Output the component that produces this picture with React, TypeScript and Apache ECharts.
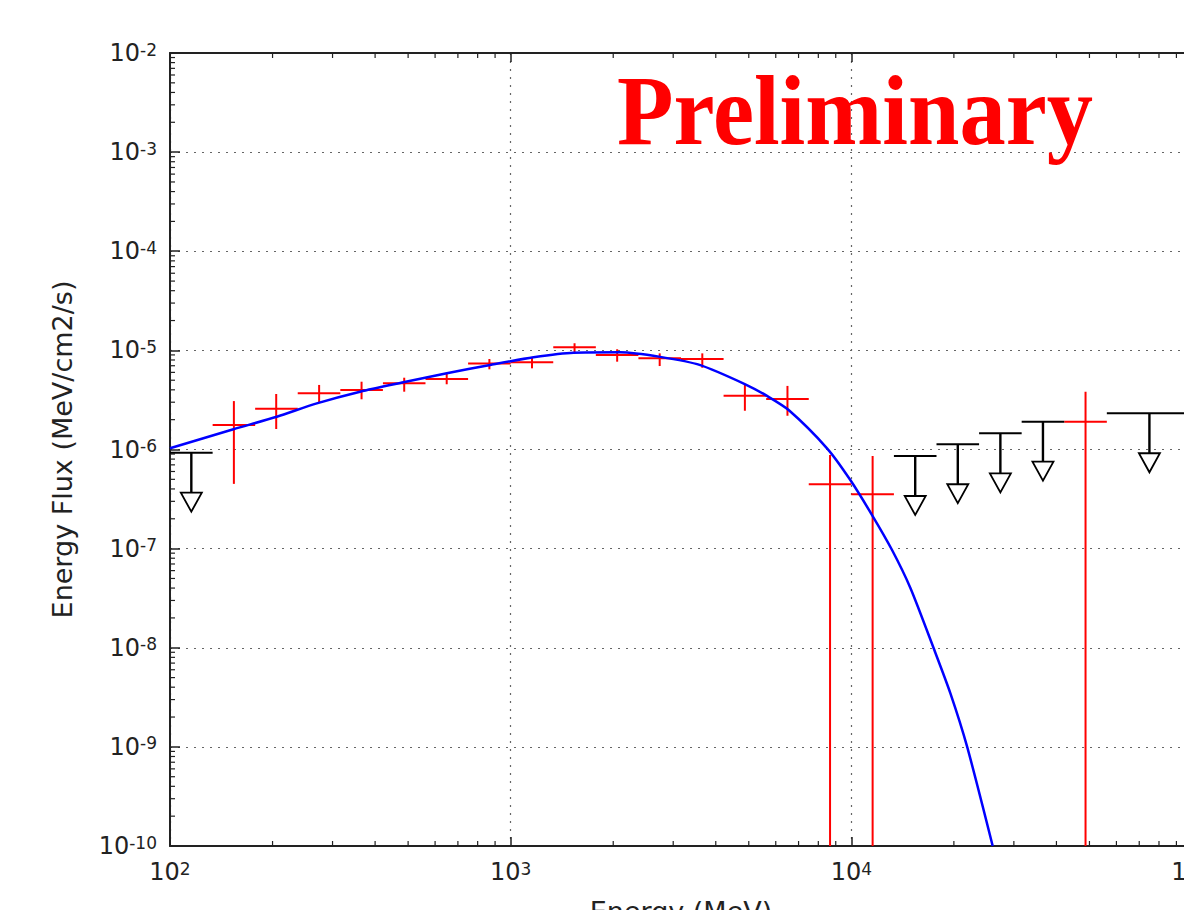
import React, { useEffect, useRef } from "react";
import * as echarts from "echarts";

// ---- Data ----
// Red data points (butterfly error bars): bin edges, bin centre (MeV), flux and its error range (MeV/cm2/s)
const binLow = [133.4, 177.8, 237.1, 316.2, 421.7, 562.3, 749.9, 1000, 1333.5, 1778.3, 2371.4, 3162.3, 4217.0, 5623.4, 7498.9, 10000, 42170];
const binHigh = [177.8, 237.1, 316.2, 421.7, 562.3, 749.9, 1000, 1333.5, 1778.3, 2371.4, 3162.3, 4217.0, 5623.4, 7498.9, 10000, 13335, 56234];
const binCenter = [154, 205, 274, 365, 487, 649, 866, 1155, 1540, 2054, 2738, 3652, 4870, 6494, 8660, 11548, 48697];
const flux = [1.77e-6, 2.57e-6, 3.69e-6, 3.98e-6, 4.65e-6, 5.14e-6, 7.37e-6, 7.59e-6, 1.074e-5, 8.98e-6, 8.31e-6, 8.18e-6, 3.49e-6, 3.23e-6, 4.46e-7, 3.53e-7, 1.91e-6];
// 0 = lower error reaches zero (below the log axis)
const fluxLow = [4.5e-7, 1.61e-6, 2.94e-6, 3.21e-6, 3.83e-6, 4.55e-6, 6.44e-6, 6.59e-6, 9.33e-6, 7.69e-6, 6.95e-6, 6.68e-6, 2.46e-6, 2.19e-6, 0, 0, 0];
const fluxHigh = [3.08e-6, 3.63e-6, 4.48e-6, 4.83e-6, 5.3e-6, 5.96e-6, 8.18e-6, 8.51e-6, 1.18e-5, 1.026e-5, 9.33e-6, 9.33e-6, 4.48e-6, 4.38e-6, 8.8e-7, 8.6e-7, 3.83e-6];

// Black upper limits
const ulLow = [100, 13335, 17783, 23714, 31623, 56234];
const ulHigh = [133.4, 17783, 23714, 31623, 42170, 100000];
const ulCenter = [115.5, 15399, 20535, 27384, 36517, 74989];
const ulFlux = [9.29e-7, 8.6e-7, 1.13e-6, 1.456e-6, 1.91e-6, 2.32e-6];

// Blue model curve
const modelEnergy = [100, 153.5, 205.8, 269.7, 361.4, 484.2, 649.5, 870.7, 1167, 1529, 2097, 2748, 3602, 4883, 5655, 6546, 8485, 9932, 11503, 13168, 14906, 17448, 19535, 21871, 26000];
const modelFlux = [1.028e-6, 1.6e-6, 2.14e-6, 2.92e-6, 3.83e-6, 4.76e-6, 5.87e-6, 7.12e-6, 8.51e-6, 9.47e-6, 9.56e-6, 8.6e-6, 7.1e-6, 4.55e-6, 3.47e-6, 2.5e-6, 1.028e-6, 4.92e-7, 2.18e-7, 9.68e-8, 4.01e-8, 9.87e-9, 3.47e-9, 1.005e-9, 1.0e-10];

// Axes
const xMin = 100;
const xMax = 100000;
const yMin = 1e-10;
const yMax = 1e-2;
const minorMultipliers = [2, 3, 4, 5, 6, 7, 8, 9];
const xDecades = [100, 1000, 10000];
const yDecades = [1e-10, 1e-9, 1e-8, 1e-7, 1e-6, 1e-5, 1e-4, 1e-3];

const xTitle = "Energy (MeV)";
const yTitle = "Energy Flux (MeV/cm2/s)";
const stampText = "Preliminary";

const AXIS_COLOR = "#222222";
const FONT = "DejaVu Sans";

function powLabel(v: number) {
  const e = Math.round(Math.log10(v));
  return `{b|10}{s|${e}}`;
}

const richLabel = {
  b: { fontSize: 24, fontFamily: FONT, color: AXIS_COLOR, lineHeight: 24 },
  s: { fontSize: 17, fontFamily: FONT, color: AXIS_COLOR, lineHeight: 13, verticalAlign: "top" as const },
};

export default function App() {
  const ref = useRef<HTMLDivElement>(null);

  useEffect(() => {
    if (!ref.current) return;
    const chart = echarts.init(ref.current, undefined, { renderer: "svg" });

    const xMinor = xDecades.flatMap((d) => minorMultipliers.map((m) => [m * d, yMin]));
    const yMinor = yDecades.flatMap((d) => minorMultipliers.map((m) => [xMin, m * d]));

    const pointData = binCenter.map((c, i) => [c, binLow[i], binHigh[i], flux[i], fluxLow[i], fluxHigh[i]]);
    const ulData = ulCenter.map((c, i) => [c, ulLow[i], ulHigh[i], ulFlux[i]]);
    const modelData = modelEnergy.map((e, i) => [e, modelFlux[i]]);

    const gridLine = { show: true, lineStyle: { color: "#666666", width: 1.2, type: [2, 6] as number[] } };

    const option: any = {
      animation: false,
      backgroundColor: "#ffffff",
      grid: { left: 170, top: 53, width: 1022, height: 793, show: false },
      xAxis: [
        {
          type: "log",
          logBase: 10,
          min: xMin,
          max: xMax,
          position: "bottom",
          name: xTitle,
          nameLocation: "middle",
          nameGap: 52,
          nameTextStyle: { fontSize: 27, fontFamily: FONT, color: AXIS_COLOR },
          axisLine: { show: true, lineStyle: { color: AXIS_COLOR, width: 2 } },
          axisTick: { show: true, inside: true, length: 9, lineStyle: { color: AXIS_COLOR, width: 1.5 } },
          axisLabel: { show: true, margin: 14, formatter: powLabel, rich: richLabel, showMinLabel: true, showMaxLabel: true },
          splitLine: gridLine,
        },
        {
          type: "log",
          logBase: 10,
          min: xMin,
          max: xMax,
          position: "top",
          axisLine: { show: true, lineStyle: { color: AXIS_COLOR, width: 2 } },
          axisTick: { show: true, inside: true, length: 9, lineStyle: { color: AXIS_COLOR, width: 1.5 } },
          axisLabel: { show: false },
          splitLine: { show: false },
        },
      ],
      yAxis: [
        {
          type: "log",
          logBase: 10,
          min: yMin,
          max: yMax,
          name: yTitle,
          nameLocation: "middle",
          nameRotate: 90,
          nameGap: 94,
          nameTextStyle: { fontSize: 27, fontFamily: FONT, color: AXIS_COLOR },
          axisLine: { show: true, lineStyle: { color: AXIS_COLOR, width: 2 } },
          axisTick: { show: true, inside: true, length: 10, lineStyle: { color: AXIS_COLOR, width: 1.5 } },
          axisLabel: { show: true, margin: 13, formatter: powLabel, rich: richLabel, showMinLabel: true, showMaxLabel: true },
          splitLine: gridLine,
        },
      ],
      graphic: [
        {
          type: "text",
          z: 100,
          x: 617,
          y: 110,
          scaleX: 0.925,
          scaleY: 1,
          style: {
            text: stampText,
            x: 0,
            y: 0,
            font: 'bold 100px "Liberation Serif"',
            fill: "#ff0000",
            align: "left",
            verticalAlign: "middle",
            textAlign: "left",
            textVerticalAlign: "middle",
          },
        },
      ],
      series: [
        {
          type: "custom",
          name: "xminor",
          silent: true,
          xAxisIndex: 0,
          yAxisIndex: 0,
          encode: { x: 0, y: 1 },
          data: xMinor,
          renderItem: (params: any, api: any) => {
            const v = api.value(0);
            const b = api.coord([v, yMin]);
            const t = api.coord([v, yMax]);
            const st = { stroke: AXIS_COLOR, lineWidth: 1.2 };
            return {
              type: "group",
              children: [
                { type: "line", shape: { x1: b[0], y1: b[1], x2: b[0], y2: b[1] - 5 }, style: st },
                { type: "line", shape: { x1: t[0], y1: t[1], x2: t[0], y2: t[1] + 5 }, style: st },
              ],
            };
          },
        },
        {
          type: "custom",
          name: "yminor",
          silent: true,
          encode: { x: 0, y: 1 },
          data: yMinor,
          renderItem: (params: any, api: any) => {
            const l = api.coord([xMin, api.value(1)]);
            return {
              type: "line",
              shape: { x1: l[0], y1: l[1], x2: l[0] + 5, y2: l[1] },
              style: { stroke: AXIS_COLOR, lineWidth: 1.2 },
            };
          },
        },
        {
          type: "custom",
          name: "points",
          encode: { x: 0, y: 3 },
          data: pointData,
          renderItem: (params: any, api: any) => {
            const cs = params.coordSys;
            const bottomPx = cs.y + cs.height;
            const xc = api.value(0);
            const y = api.value(3);
            const lo = api.value(4);
            const hi = api.value(5);
            const pc = api.coord([xc, y]);
            const pl = api.coord([api.value(1), y]);
            const ph = api.coord([api.value(2), y]);
            const top = api.coord([xc, hi])[1];
            const bot = lo > 0 ? Math.min(api.coord([xc, lo])[1], bottomPx) : bottomPx;
            const st = { stroke: "#ff0000", lineWidth: 2 };
            return {
              type: "group",
              children: [
                { type: "line", shape: { x1: pl[0], y1: pc[1], x2: ph[0], y2: pc[1] }, style: st },
                { type: "line", shape: { x1: pc[0], y1: top, x2: pc[0], y2: bot }, style: st },
              ],
            };
          },
        },
        {
          type: "custom",
          name: "upper limits",
          encode: { x: 0, y: 3 },
          data: ulData,
          renderItem: (params: any, api: any) => {
            const xc = api.value(0);
            const y = api.value(3);
            const p = api.coord([xc, y]);
            const pl = api.coord([api.value(1), y]);
            const ph = api.coord([api.value(2), y]);
            const st = { stroke: "#000000", lineWidth: 2 };
            return {
              type: "group",
              children: [
                { type: "line", shape: { x1: pl[0], y1: p[1], x2: ph[0], y2: p[1] }, style: st },
                { type: "line", shape: { x1: p[0], y1: p[1], x2: p[0], y2: p[1] + 40 }, style: { stroke: "#000000", lineWidth: 2.4 } },
                {
                  type: "polygon",
                  shape: { points: [[p[0] - 10.5, p[1] + 40], [p[0] + 10.5, p[1] + 40], [p[0], p[1] + 59]] },
                  style: { fill: "#ffffff", stroke: "#000000", lineWidth: 1.8 },
                },
              ],
            };
          },
        },
        {
          type: "line",
          name: "model",
          data: modelData,
          showSymbol: false,
          smooth: 0.25,
          clip: true,
          lineStyle: { color: "#0000ff", width: 2.5 },
          z: 5,
        },
      ],
    };

    chart.setOption(option);
    return () => chart.dispose();
  }, []);

  return (
    <div style={{ position: "fixed", left: 0, top: 0, width: 1184, height: 910, overflow: "hidden", background: "#fff" }}>
      <div ref={ref} style={{ width: 1300, height: 1000 }} />
    </div>
  );
}
